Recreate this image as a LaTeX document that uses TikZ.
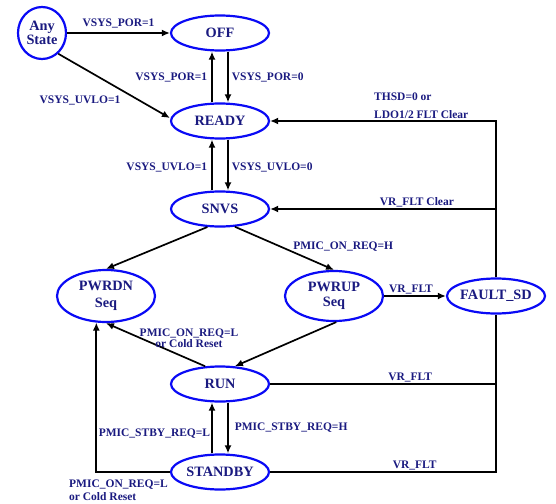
\documentclass[tikz,border=0pt]{standalone}
\usepackage{fontspec}
\setmainfont{Liberation Serif}
\usepackage{tikz}
\usetikzlibrary{shapes.geometric,arrows.meta,positioning}
\definecolor{navytext}{RGB}{26,26,128}
\definecolor{stateblue}{RGB}{10,10,245}
\newcommand{\stfont}{\fontsize{14.3}{15.5}\selectfont\bfseries}
\newcommand{\lbfont}{\fontsize{11.5}{13}\selectfont\bfseries}

\begin{document}
\begin{tikzpicture}[x=1pt, y=-1pt,
    st/.style={ellipse, draw=stateblue, line width=2.2pt, fill=white, text=navytext, font=\stfont,
      align=center, inner sep=0pt, minimum width=98pt, minimum height=35pt},
    lb/.style={text=navytext, font=\lbfont, inner sep=1pt},
    fl/.style={draw=black, line width=1.7pt, -{Latex[length=8pt,width=7pt]}},
    ln/.style={draw=black, line width=1.7pt}
  ]
  \useasboundingbox (0,0) rectangle (556,503);

  % states
  \node[st, minimum width=48pt, minimum height=52pt, font=\fontsize{14.3}{14}\selectfont\bfseries] (any) at (42,33) {Any\\State};
  \node[st] (off) at (220,33) {OFF};
  \node[st] (ready) at (220,121) {READY};
  \node[st] (snvs) at (220,209) {SNVS};
  \node[st, minimum height=52pt] (pwrdn) at (106,296) {PWRDN\\[2pt]Seq};
  \node[st, minimum height=50pt] (pwrup) at (334,296) {PWRUP\\Seq};
  \node[st, inner xsep=-2.5pt] (fault) at (496,296) {FAULT\_SD};
  \node[st] (run) at (220,384) {RUN};
  \node[st] (stby) at (220,472) {STANDBY};

  % transitions
  \draw[fl] (any) -- (off) node[lb, midway, above, yshift=3pt] (lPorAny) {VSYS\_POR=1};
  \draw[fl] (any.-52) -- ([yshift=3pt]ready.west);
  \node[lb] (lUvloAny) at (80,100) {VSYS\_UVLO=1};

  \draw[fl] ([xshift=-8pt]ready.north) -- ([xshift=-8pt]off.south) node[lb, midway, left, xshift=-3pt] (lPorUp) {VSYS\_POR=1};
  \draw[fl] ([xshift=8pt]off.south) -- ([xshift=8pt]ready.north) node[lb, midway, right, xshift=2pt] (lPorDn) {VSYS\_POR=0};
  \draw[fl] ([xshift=-8pt]snvs.north) -- ([xshift=-8pt]ready.south) node[lb, midway, left, xshift=-3pt, yshift=-2pt] (lUvloUp) {VSYS\_UVLO=1};
  \draw[fl] ([xshift=8pt]ready.south) -- ([xshift=8pt]snvs.north) node[lb, midway, right, xshift=2pt, yshift=-2pt] (lUvloDn) {VSYS\_UVLO=0};

  \draw[fl] (fault.north) |- (ready.east);
  \node[lb, align=left, anchor=south west, yshift=1.5pt, font=\fontsize{11.5}{18}\selectfont\bfseries] (lThsd) at (373,121) {THSD=0 or\\LDO1/2 FLT Clear};
  \draw[fl] (fault.north |- snvs.east) -- (snvs.east) node[lb, pos=0.35, above] (lFltClr) {VR\_FLT Clear};

  \draw[fl] (snvs.-125) -- (pwrdn.north);
  \draw[fl] (snvs.-50) -- (pwrup.north) node[lb, pos=0.45, right, xshift=12pt] (lOnH) {PMIC\_ON\_REQ=H};
  \draw[fl] (pwrup) -- (fault) node[lb, midway, above, xshift=-4pt] (lFltUp) {VR\_FLT};
  \draw[fl] (pwrup.-85) -- (run.50);
  \draw[fl] (run.130) -- (pwrdn.south);
  \node[lb, align=center, font=\fontsize{11.5}{11.5}\selectfont\bfseries] (lOnRun) at (189,338) {PMIC\_ON\_REQ=L\\or Cold Reset};

  \draw[ln] (run.east) -- (run.east -| fault.south) node[lb, pos=0.62, above] (lFltRun) {VR\_FLT};
  \draw[ln] (stby.east) -| (fault.south) node[lb, pos=0.32, above] (lFltStby) {VR\_FLT};
  \draw[fl] (stby.west) -| (pwrdn.-110);
  \node[lb, align=left, anchor=north west, font=\fontsize{11.5}{13}\selectfont\bfseries] (lOnStby) at (68,479) {PMIC\_ON\_REQ=L\\or Cold Reset};

  \draw[fl] ([xshift=8pt]run.south) -- ([xshift=8pt]stby.north) node[lb, midway, right, xshift=5pt] (lStbyH) {PMIC\_STBY\_REQ=H};
  \draw[fl] ([xshift=-8pt]stby.north) -- ([xshift=-8pt]run.south) node[lb, pos=0.39, left] (lStbyL) {PMIC\_STBY\_REQ=L};
\end{tikzpicture}
\end{document}
